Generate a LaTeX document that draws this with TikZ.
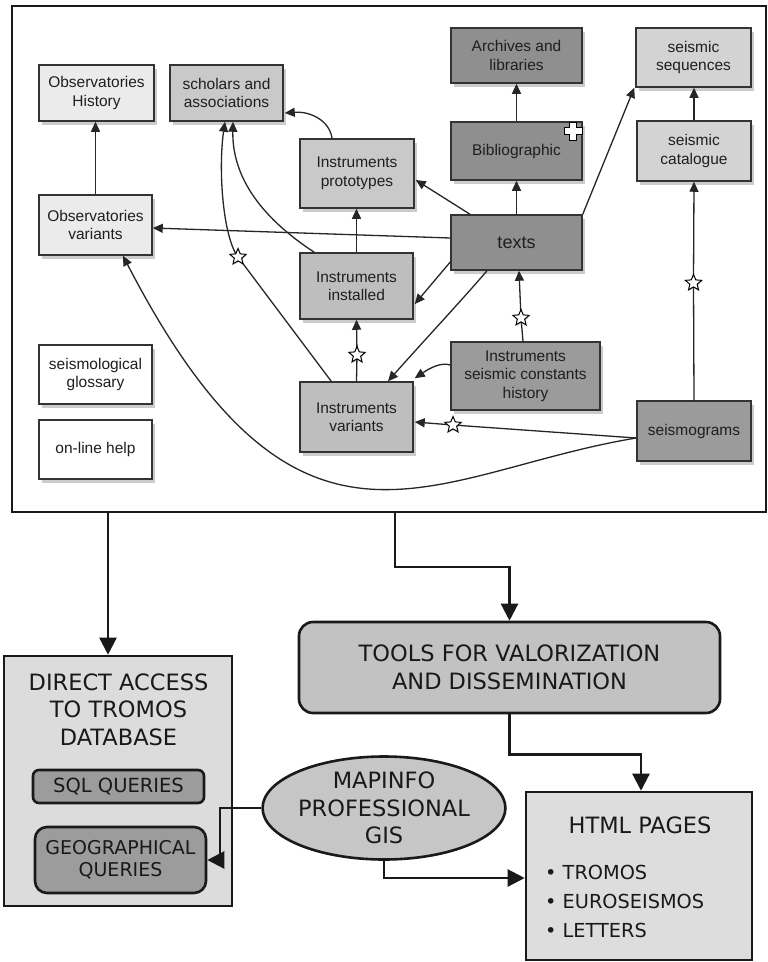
\documentclass[tikz,border=0pt]{standalone}
\usepackage{fontspec}
\newfontfamily\topf{Liberation Sans}
\newfontfamily\botf{DejaVu Sans}
\usetikzlibrary{arrows.meta,shapes.geometric,shadows,calc}
\definecolor{cL}{HTML}{EBEBEB}
\definecolor{cM}{HTML}{C9C9C9}
\definecolor{cS}{HTML}{D3D3D3}
\definecolor{cI}{HTML}{BEBEBE}
\definecolor{cD}{HTML}{8F8F8F}
\definecolor{cC}{HTML}{9B9B9B}
\definecolor{cDA}{HTML}{DCDCDC}
\definecolor{cQ}{HTML}{9C9C9C}
\definecolor{cT}{HTML}{C2C2C2}
\definecolor{cE}{HTML}{C6C6C6}
\definecolor{cH}{HTML}{DDDDDD}
\tikzset{
  sz/.style 2 args={minimum width=#1, minimum height=#2},
  tb/.style={draw=black!80, line width=1.5pt, inner sep=0pt, align=center,
    font=\topf\fontsize{15.5}{18.5}\selectfont, text=black!88,
    drop shadow={shadow xshift=2.5pt,shadow yshift=-3.5pt,opacity=.4}},
  ar/.style={draw=black!85, line width=1.3pt, -{Triangle[length=10pt,width=9pt]}},
  starn/.style={star, star points=5, star point ratio=2.2, minimum size=17pt, inner sep=0pt,
    draw=black, line width=1pt, fill=white,
    drop shadow={shadow xshift=1pt,shadow yshift=-1pt,opacity=.3}},
  bbox/.style={draw=black!90, line width=2.6pt, inner sep=0pt, align=center,
    font=\botf\fontsize{22.5}{27.5}\selectfont, text=black!90},
  btxt/.style={inner sep=0pt, align=center, font=\botf\fontsize{22.5}{27.5}\selectfont, text=black!90},
  big/.style={draw=black!90, line width=2.4pt, -{Triangle[length=17pt,width=17pt]}}
}
\begin{document}
\begin{tikzpicture}[x=1pt,y=-1pt]
\useasboundingbox[fill=white] (0,0) rectangle (768,962);
% frame
\node[draw=black!90, line width=2pt, minimum width=754pt, minimum height=506pt, inner sep=0pt] (frame) at (389,259) {};
% top nodes
\node[tb, sz={115pt}{56pt}, fill=cL] (obsH) at (96.5,93) {Observatories\\History};
\node[tb, sz={113pt}{56pt}, fill=cM] (schol) at (226.5,93) {scholars and\\associations};
\node[tb, sz={114pt}{69pt}, fill=cM] (proto) at (357,173.5) {Instruments\\prototypes};
\node[tb, sz={113pt}{60pt}, fill=cL] (obsV) at (95.5,225) {Observatories\\variants};
\node[tb, sz={131pt}{55pt}, fill=cD] (arch) at (516.5,55.5) {Archives and\\libraries};
\node[tb, sz={131pt}{58pt}, fill=cD] (bib) at (516.5,151) {Bibliographic};
\node[tb, sz={115pt}{59pt}, fill=cS] (seq) at (693.5,57.5) {seismic\\sequences};
\node[tb, sz={114pt}{60pt}, fill=cS] (cat) at (694,151) {seismic\\catalogue};
\node[tb, sz={131pt}{55pt}, fill=cD, font=\topf\fontsize{18}{21}\selectfont] (texts) at (516.5,242.5) {texts};
\node[tb, sz={113pt}{66pt}, fill=cI] (inst) at (356.5,286) {Instruments\\installed};
\node[tb, sz={113pt}{70pt}, fill=cI] (var) at (356.5,417) {Instruments\\variants};
\node[tb, sz={149pt}{68pt}, fill=cC] (const) at (525.5,376) {Instruments\\seismic constants\\history};
\node[tb, sz={114pt}{60pt}, fill=cC] (sgram) at (694,431) {seismograms};
\node[tb, sz={113pt}{59pt}, fill=white] (gloss) at (95.5,374.5) {seismological\\glossary};
\node[tb, sz={113pt}{59pt}, fill=white] (help) at (95.5,449.5) {on-line help};
% plus sign on Bibliographic
\draw[fill=white, draw=black, line width=0.9pt, drop shadow={shadow xshift=1pt,shadow yshift=-1pt,opacity=.3}]
  (569.5,122) -- (576.5,122) -- (576.5,127.5) -- (582,127.5) -- (582,134.5) -- (576.5,134.5) -- (576.5,140)
  -- (569.5,140) -- (569.5,134.5) -- (564,134.5) -- (564,127.5) -- (569.5,127.5) -- cycle;
% star positions
\coordinate (c1) at (238,257);
\coordinate (c2) at (357,355);
\coordinate (c3) at (521,318);
\coordinate (c4) at (693.5,283);
\coordinate (c5) at (453,425);
% top connectors
\draw[ar] (obsV.north) -- (obsV.north |- obsH.south);
\draw[ar] ([yshift=4.5pt]texts.west) -- ([yshift=-3pt]obsV.east);
\draw[ar] ([xshift=-46.5pt]texts.north) -- ([yshift=-6.5pt,xshift=1pt]proto.east);
\draw[ar] ([yshift=-19.5pt]texts.west) -- ([yshift=-18pt,xshift=1pt]inst.east);
\draw[ar] ([xshift=-29.5pt]texts.south) .. controls (462,300) and (420,345) .. ([xshift=31.5pt]var.north);
\draw[ar] (texts.north) -- (bib.south);
\draw[ar] (bib.north) -- (arch.south);
\draw[ar] (texts.north east) -- ([xshift=-1pt]seq.south west);
\draw[ar] (cat.north) -- (cat.north |- seq.south);
\draw[ar] (sgram.north) -- (c4) -- (cat.south);
\draw[ar] (inst.north) -- (inst.north |- proto.south);
\draw[ar] (var.north) -- (c2) -- (inst.south);
\draw[ar] ([xshift=-2.5pt]const.north) -- (c3) -- ([xshift=2.5pt]texts.south);
\draw[ar] ([yshift=11pt]const.west) .. controls (441,362) and (430,368) .. ([yshift=3pt,xshift=1pt]var.north east);
\draw[ar] ([yshift=-7pt]sgram.west) -- (c5) -- ([yshift=-5pt,xshift=1pt]var.east);
\draw[ar] ([yshift=-7pt]sgram.west) .. controls (430,472) and (300,598) .. ([xshift=27.5pt]obsV.south);
\draw[ar] ([xshift=-25pt]proto.north) .. controls (330,122) and (312,111) .. ([yshift=-20pt,xshift=1pt]schol.east);
\draw[ar] ([xshift=15pt]inst.north west) .. controls (265,220) and (232,180) .. ([xshift=6.5pt]schol.south);
\draw[ar] ([xshift=32pt]var.north west) -- (c1) .. controls (223,237) and (218,170) .. ([xshift=-1.5pt]schol.south);
% stars
\node[starn] (s1) at (c1) {};
\node[starn] (s2) at (c2) {};
\node[starn] (s3) at (c3) {};
\node[starn] (s4) at (c4) {};
\node[starn] (s5) at (c5) {};
% lower part
\node[bbox, minimum width=228pt, minimum height=250pt, fill=cDA] (direct) at (118,781) {};
\node[btxt] (directT) at (118.5,709.5) {DIRECT ACCESS\\TO TROMOS\\DATABASE};
\node[bbox, rounded corners=6pt, minimum width=171pt, minimum height=33pt, fill=cQ,
  font=\botf\fontsize{19.5}{23}\selectfont] (sql) at (118.5,786.5) {SQL QUERIES};
\node[bbox, rounded corners=12pt, minimum width=171pt, minimum height=66pt, fill=cQ,
  font=\botf\fontsize{19}{22}\selectfont] (geo) at (120.5,860) {GEOGRAPHICAL\\QUERIES};
\node[bbox, rounded corners=14pt, minimum width=421pt, minimum height=91pt, fill=cT] (tools) at (509.5,667.5) {TOOLS FOR VALORIZATION\\AND DISSEMINATION};
\node[bbox, ellipse, minimum width=192pt, minimum height=103pt, fill=cE] (gis) at (384,808) {MAPINFO\\PROFESSIONAL\\GIS};
\node[bbox, minimum width=226pt, minimum height=168pt, fill=cH] (html) at (639,876) {};
\node[btxt] (htmlT) at (640,825) {HTML PAGES};
\node[btxt, anchor=west, align=left, font=\botf\fontsize{19.3}{29}\selectfont] (htmlL) at (545,901)
  {\textbullet\ TROMOS\\\textbullet\ EUROSEISMOS\\\textbullet\ LETTERS};
% lower connectors
\coordinate (d1) at ([xshift=-10pt]direct.north);
\coordinate (f2) at (395,512);
\draw[big] (frame.south -| d1) -- (d1);
\draw[big] (f2) -- ++(0,55) -| (tools.north);
\draw[big] (tools.south) -- ++(0,40) -| ([xshift=2pt]html.north);
\draw[big] (gis.west) -- ++(-41,0) |- (geo.east);
\draw[big] (gis.south) |- ([yshift=-2pt]html.west);
\end{tikzpicture}
\end{document}
